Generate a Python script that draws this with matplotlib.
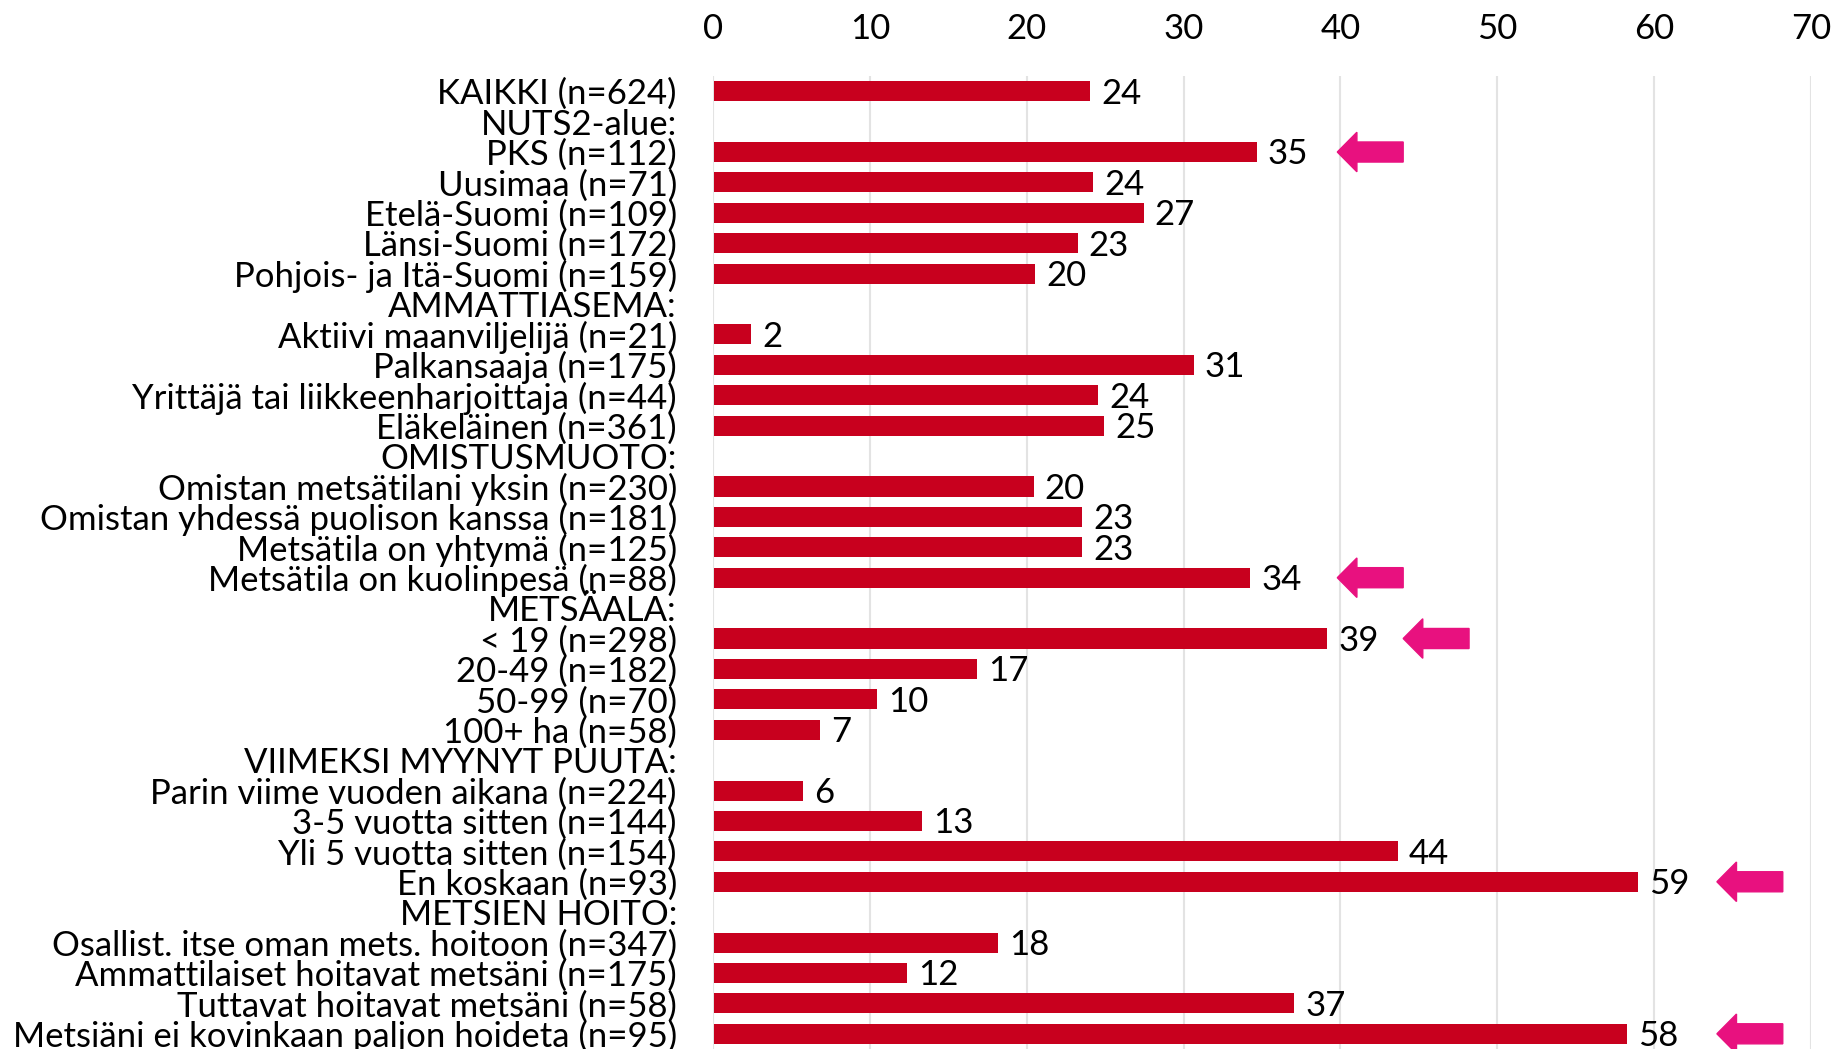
import numpy as np
import matplotlib
matplotlib.use("Agg")
import matplotlib.pyplot as plt
from matplotlib.patches import Polygon

plt.rcParams['font.family'] = ['Lato', 'DejaVu Sans']

# rivit ylhäältä alas; None = otsikkorivi ilman palkkia
labels = [
    "KAIKKI (n=624)", "NUTS2-alue:", "PKS (n=112)", "Uusimaa (n=71)",
    "Etelä-Suomi (n=109)", "Länsi-Suomi (n=172)", "Pohjois- ja Itä-Suomi (n=159)",
    "AMMATTIASEMA:", "Aktiivi maanviljelijä (n=21)", "Palkansaaja (n=175)",
    "Yrittäjä tai liikkeenharjoittaja (n=44)", "Eläkeläinen (n=361)",
    "OMISTUSMUOTO:", "Omistan metsätilani yksin (n=230)",
    "Omistan yhdessä puolison kanssa (n=181)", "Metsätila on yhtymä (n=125)",
    "Metsätila on kuolinpesä (n=88)", "METSÄALA:", "< 19 (n=298)",
    "20-49 (n=182)", "50-99 (n=70)", "100+ ha (n=58)", "VIIMEKSI MYYNYT PUUTA:",
    "Parin viime vuoden aikana (n=224)", "3-5 vuotta sitten (n=144)",
    "Yli 5 vuotta sitten (n=154)", "En koskaan (n=93)", "METSIEN HOITO:",
    "Osallist. itse oman mets. hoitoon (n=347)",
    "Ammattilaiset hoitavat metsäni (n=175)", "Tuttavat hoitavat metsäni (n=58)",
    "Metsiäni ei kovinkaan paljon hoideta (n=95)",
]
values = [24, None, 34.6, 24.2, 27.4, 23.2, 20.5, None, 2.4, 30.6, 24.5, 24.9,
          None, 20.4, 23.5, 23.5, 34.2, None, 39.1, 16.8, 10.4, 6.8, None,
          5.7, 13.3, 43.6, 58.9, None, 18.1, 12.3, 37.0, 58.2]
shown = [24, None, 35, 24, 27, 23, 20, None, 2, 31, 24, 25, None, 20, 23, 23, 34,
         None, 39, 17, 10, 7, None, 6, 13, 44, 59, None, 18, 12, 37, 58]
# korostusnuolet: rivi -> nuolen kärjen kohta
flagged = {"PKS (n=112)": 39.8, "Metsätila on kuolinpesä (n=88)": 39.8,
           "< 19 (n=298)": 44.0, "En koskaan (n=93)": 64.0,
           "Metsiäni ei kovinkaan paljon hoideta (n=95)": 64.0}

bar_color = "#C8001E"
arrow_color = "#E8117F"

fig = plt.figure(figsize=(18.34, 10.49), dpi=100)
ax = fig.add_axes([713 / 1834, 0, (1811 - 713) / 1834, 1 - 76 / 1049])

y = np.arange(len(labels))
vals = np.array([v if v is not None else 0 for v in values], dtype=float)
has = np.array([v is not None for v in values])
ax.barh(y[has], vals[has], height=0.66, color=bar_color, left=0.05, zorder=3)

for yi, v, s in zip(y, values, shown):
    if v is None:
        continue
    ax.text(v + 0.75, yi + 0.08, str(s), va="center", ha="left", fontsize=25, zorder=4)

for yi, lab in zip(y, labels):
    if lab in flagged:
        tip = flagged[lab]
        L = 4.2
        hl = 1.25
        bh = 0.33
        hh = 0.65
        pts = [(tip, yi), (tip + hl, yi - hh), (tip + hl, yi - bh),
               (tip + L, yi - bh), (tip + L, yi + bh), (tip + hl, yi + bh),
               (tip + hl, yi + hh)]
        ax.add_patch(Polygon(pts, closed=True, color=arrow_color, zorder=4,
                             clip_on=True))

ax.set_xlim(0, 70)
ax.set_ylim(len(labels) - 0.5, -0.5)
ax.set_xticks(np.arange(0, 71, 10))
ax.xaxis.tick_top()
ax.set_yticks(y)
ax.set_yticklabels(labels)
ax.tick_params(axis="both", length=0, labelsize=25)
ax.tick_params(axis="x", pad=22, labelsize=25)
ax.tick_params(axis="y", pad=26)
for sp in ax.spines.values():
    sp.set_visible(False)
ax.grid(axis="x", color="#E3E3E3", linewidth=1.5, zorder=0)
ax.set_axisbelow(True)

fig.savefig("out.png", dpi=100)
